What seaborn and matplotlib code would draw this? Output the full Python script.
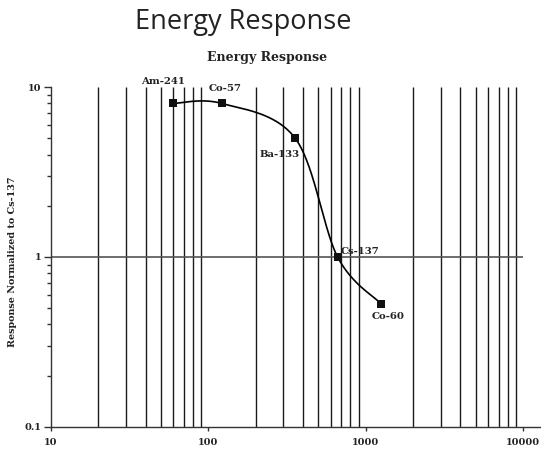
import matplotlib
matplotlib.use("Agg")
import matplotlib.pyplot as plt
from matplotlib.ticker import LogLocator, FixedLocator, FixedFormatter, NullFormatter
import seaborn as sns
import numpy as np
import pandas as pd

# source energies (keV) and response normalized to Cs-137
sources = ["Am-241", "Co-57", "Ba-133", "Cs-137", "Co-60"]
energy = [59.5, 122, 356, 662, 1250]
response = [8.0, 8.0, 5.0, 1.0, 0.53]

# label offsets (points) relative to each marker
label_off = [(-7, 16), (2, 11), (-11, -12), (16, 4), (5, -9)]

xticks = [10, 100, 1000, 10000]
yticks = [0.1, 1, 10]

sns.set_theme(style="white")
serif = "DejaVu Serif"


def smooth(xs, ys, n=40):
    # Catmull-Rom style (Excel smoothed line) in log space
    lx = np.log10(xs)
    ly = np.log10(ys)
    P = np.column_stack([lx, ly])
    P = np.vstack([P[0], P, P[-1]])
    out = []
    for i in range(1, len(P) - 2):
        p0, p1, p2, p3 = P[i - 1], P[i], P[i + 1], P[i + 2]
        c1 = p1 + (p2 - p0) / 6
        c2 = p2 - (p3 - p1) / 6
        t = np.linspace(0, 1, n)[:, None]
        seg = (1 - t) ** 3 * p1 + 3 * (1 - t) ** 2 * t * c1 + 3 * (1 - t) * t ** 2 * c2 + t ** 3 * p2
        out.append(seg if i == 1 else seg[1:])
    out = np.vstack(out)
    return 10 ** out[:, 0], 10 ** out[:, 1]


fig = plt.figure(figsize=(5.41, 4.49), dpi=100)
ax = fig.add_axes([0.0943, 0.0497, 0.9057, 0.7565])

ax.set_xscale("log")
ax.set_yscale("log")
ax.set_xlim(10, 13000)
ax.set_ylim(0.1, 10)

# vertical grid at minor x positions
minors = [m * d for d in [10, 100, 1000] for m in range(2, 10)]
ax.vlines(minors, 0.1, 10, color="#1a1a1a", lw=1.0, zorder=1)
ax.hlines(1, 10, 10000, color="#555555", lw=1.2, zorder=1)

cx, cy = smooth(energy, response)
curve = pd.DataFrame({"x": cx, "y": cy})
sns.lineplot(data=curve, x="x", y="y", sort=False, color="black", lw=1.2, ax=ax, zorder=3)

pts = pd.DataFrame({"x": energy, "y": response, "src": sources})
sns.scatterplot(data=pts, x="x", y="y", marker="s", s=34, color="#111111",
                edgecolor="#111111", linewidth=0, ax=ax, zorder=4)

for xv, yv, name, off in zip(energy, response, sources, label_off):
    ax.annotate(name, (xv, yv), xytext=off, textcoords="offset points",
                ha="center", va="center", fontsize=7.3, fontweight="bold",
                family=serif, color="#222222")

ax.xaxis.set_major_locator(FixedLocator(xticks))
ax.xaxis.set_major_formatter(FixedFormatter([str(v) for v in xticks]))
ax.xaxis.set_minor_formatter(NullFormatter())
ax.yaxis.set_major_locator(FixedLocator(yticks))
ax.yaxis.set_major_formatter(FixedFormatter(["0.1", "1", "10"]))
ax.yaxis.set_minor_locator(LogLocator(base=10, subs=np.arange(2, 10)))
ax.yaxis.set_minor_formatter(NullFormatter())

ax.tick_params(axis="x", which="major", direction="out", length=3, width=1,
               color="#333333", pad=5, bottom=True)
ax.tick_params(axis="x", which="minor", length=0)
ax.tick_params(axis="y", which="major", direction="out", length=5, width=1,
               color="#333333", pad=2, left=True)
ax.tick_params(axis="y", which="minor", direction="out", length=3, width=1,
               color="#333333", left=True)
for lab in ax.get_xticklabels() + ax.get_yticklabels():
    lab.set_family(serif)
    lab.set_fontweight("bold")
    lab.set_fontsize(7)
    lab.set_color("#222222")

for s in ["top", "right"]:
    ax.spines[s].set_visible(False)
for s in ["left", "bottom"]:
    ax.spines[s].set_color("#333333")
    ax.spines[s].set_linewidth(1.0)

ax.set_xlabel("")
ax.set_ylabel("")
ax.grid(False)

fig.text(0.024, 0.416, "Response Normalized to Cs-137", rotation=90, ha="center",
         va="center", family=serif, fontweight="bold", fontsize=6.9, color="#222222")
fig.text(0.494, 0.873, "Energy Response", ha="center", va="center", family=serif,
         fontweight="bold", fontsize=9, color="#222222")
fig.text(0.45, 0.951, "Energy Response", ha="center", va="center",
         family="Open Sans", fontsize=19.5, color="#222222")

fig.savefig("out.png", dpi=100)
